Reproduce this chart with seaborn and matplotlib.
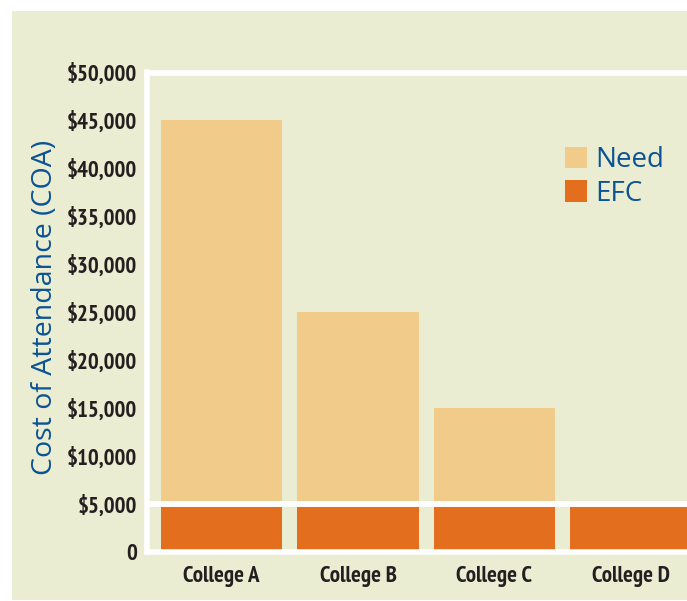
import matplotlib
matplotlib.use("Agg")
import matplotlib.pyplot as plt
import seaborn as sns
from matplotlib.patches import Patch, Rectangle
from matplotlib.ticker import FuncFormatter

# data
colleges = ["College A", "College B", "College C", "College D"]
efc = [5000, 5000, 5000, 5000]
need = [40000, 20000, 10000, 0]
totals = [e + n for e, n in zip(efc, need)]
yticks = list(range(0, 50001, 5000))

bg = "#EAEDD1"
need_col = "#F1CB8A"
efc_col = "#E36F1E"
blue = "#0B5394"
dark = "#231F20"

narrow = ["PT Sans Narrow", "Roboto Condensed", "Liberation Sans Narrow", "DejaVu Sans"]
wide = ["Open Sans", "DejaVu Sans"]

sns.set_style("white")
plt.rcParams["font.family"] = narrow

fig = plt.figure(figsize=(6.87, 6.01), dpi=100, facecolor="white")
fig.patches.append(Rectangle((12 / 687, 1 / 601), 1 - 12 / 687, 589 / 601,
                             transform=fig.transFigure, facecolor=bg,
                             edgecolor="none", zorder=-5))
ax = fig.add_axes([147 / 687, 49 / 601, 540 / 687, 479.5 / 601])
ax.set_zorder(2)
ax.set_facecolor(bg)

# total bar in need colour, efc drawn on top of it
sns.barplot(x=colleges, y=totals, color=need_col, saturation=1, width=0.89,
            linewidth=0, edgecolor="none", ax=ax, zorder=1)
sns.barplot(x=colleges, y=efc, color=efc_col, saturation=1, width=0.89,
            linewidth=0, edgecolor="none", ax=ax, zorder=1)

ax.set_xlim(-0.548, 3.414)
ax.set_ylim(0, 50000)
ax.axhline(5000, color="white", lw=4.3, zorder=3)

for s in ["left", "top", "bottom"]:
    ax.spines[s].set_visible(True)
    ax.spines[s].set_color("white")
    ax.spines[s].set_linewidth(4.0)
    ax.spines[s].set_zorder(4)
ax.spines["right"].set_visible(False)

ax.set_yticks(yticks)
ax.yaxis.set_major_formatter(FuncFormatter(lambda v, p: "0" if v == 0 else "${:,.0f}".format(v)))
ax.tick_params(axis="both", length=0, labelsize=16.5, labelcolor=dark)
ax.tick_params(axis="y", pad=7)
ax.tick_params(axis="x", pad=10)
for t in ax.get_xticklabels() + ax.get_yticklabels():
    t.set_fontweight("bold")
ax.set_xlabel("")
ax.set_ylabel("")

fig.text(45 / 687, 1 - 307 / 601, "Cost of Attendance (COA)", rotation=90,
         ha="center", va="center", color=blue, fontsize=20.5,
         fontweight="medium", family=wide)

handles = [Patch(facecolor=need_col, edgecolor="none"),
           Patch(facecolor=efc_col, edgecolor="none")]
leg = ax.legend(handles, ["Need", "EFC"], loc="upper left",
                bbox_to_anchor=(565 / 687, 1 - 146 / 601),
                bbox_transform=fig.transFigure, frameon=False,
                prop={"family": wide, "size": 20, "weight": "medium"},
                labelcolor=blue, handlelength=0.8, handleheight=0.8,
                handletextpad=0.3, labelspacing=0.2, borderpad=0,
                borderaxespad=0)

fig.savefig("out.png", dpi=100, facecolor="white")
